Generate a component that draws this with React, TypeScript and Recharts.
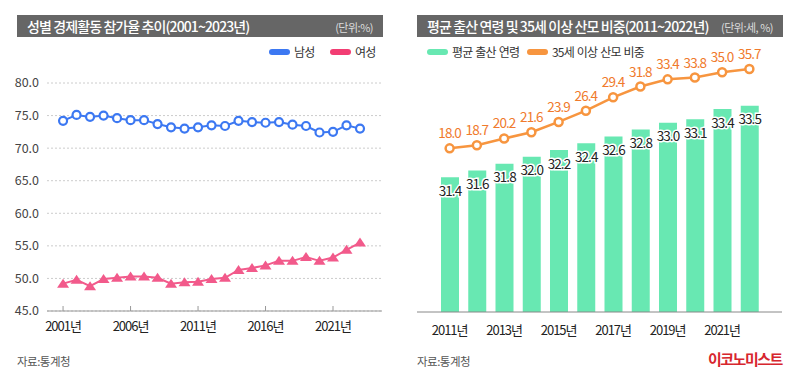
import { LineChart, Line, XAxis, YAxis, CartesianGrid, ComposedChart, Bar, LabelList } from "recharts";

// left panel: 성별 경제활동 참가율
const genderYears = [2001, 2002, 2003, 2004, 2005, 2006, 2007, 2008, 2009, 2010, 2011, 2012, 2013, 2014, 2015, 2016, 2017, 2018, 2019, 2020, 2021, 2022, 2023];
const maleRate = [74.2, 75.1, 74.8, 75.0, 74.6, 74.3, 74.3, 73.7, 73.2, 73.0, 73.2, 73.5, 73.4, 74.2, 74.0, 73.9, 74.0, 73.6, 73.4, 72.4, 72.5, 73.5, 73.0];
const femaleRate = [49.2, 49.8, 48.8, 49.9, 50.1, 50.3, 50.3, 50.1, 49.2, 49.4, 49.5, 49.9, 50.1, 51.3, 51.6, 52.0, 52.7, 52.7, 53.3, 52.7, 53.2, 54.4, 55.5];
const rateTicks = [45, 50, 55, 60, 65, 70, 75, 80];
const yearTicks = [2001, 2006, 2011, 2016, 2021];

// right panel: 평균 출산 연령 / 35세 이상 산모 비중
const birthYears = ["2011년", "2012년", "2013년", "2014년", "2015년", "2016년", "2017년", "2018년", "2019년", "2020년", "2021년", "2022년"];
const avgAge = [31.4, 31.6, 31.8, 32.0, 32.2, 32.4, 32.6, 32.8, 33.0, 33.1, 33.4, 33.5];
const over35Share = [18.0, 18.7, 20.2, 21.6, 23.9, 26.4, 29.4, 31.8, 33.4, 33.8, 35.0, 35.7];

const genderData = genderYears.map((year, i) => ({ year, male: maleRate[i], female: femaleRate[i] }));
const birthData = birthYears.map((year, i) => ({ year, age: avgAge[i], share: over35Share[i] }));

const FONT = '"Noto Sans CJK KR", "Noto Sans", sans-serif';
const BLUE = "#3c78f2";
const PINK = "#f25a8b";
const GREEN = "#68e8b2";
const ORANGE = "#f7953f";

const Triangle = (props: any) => {
  const { cx, cy, index } = props;
  if (cx == null || cy == null) return <g key={index} />;
  return <path key={index} d={`M${cx},${cy - 5} L${cx + 6},${cy + 4} L${cx - 6},${cy + 4} Z`} fill={PINK} />;
};

const YearTick = (props: any) => {
  const { x, y, payload } = props;
  return (
    <g>
      <line x1={x} x2={x} y1={y - 5} y2={y} stroke="#999" />
      <text x={x} y={y + 20} textAnchor="middle" fontSize={13} fill="#222" letterSpacing={-1}>
        {payload.value}년
      </text>
    </g>
  );
};

const TitleBar = ({ left, title, unit }: { left: number; title: string; unit: string }) => (
  <div style={{ position: "absolute", left, top: 15, width: 366, height: 22, background: "#666", color: "#fff" }}>
    <span style={{ position: "absolute", left: 10, top: 1, fontSize: 14, fontWeight: 500, letterSpacing: -0.9, whiteSpace: "nowrap" }}>{title}</span>
    <span style={{ position: "absolute", right: 10, top: 4, fontSize: 11, color: "#ddd", letterSpacing: -0.5, whiteSpace: "nowrap" }}>{unit}</span>
  </div>
);

const LegendItem = ({ left, color, label }: { left: number; color: string; label: string }) => (
  <div style={{ position: "absolute", left, top: 43, display: "flex", alignItems: "center", whiteSpace: "nowrap" }}>
    <div style={{ width: 21, height: 6, borderRadius: 3, background: color }} />
    <span style={{ marginLeft: 4, fontSize: 12, color: "#333", letterSpacing: -0.8, wordSpacing: 1 }}>{label}</span>
  </div>
);

export default function App() {
  return (
    <div style={{ position: "absolute", left: 0, top: 0, width: 800, height: 380, background: "#fff", fontFamily: FONT }}>
      <TitleBar left={17} title="성별 경제활동 참가율 추이(2001~2023년)" unit="(단위:%)" />
      <TitleBar left={417} title="평균 출산 연령 및 35세 이상 산모 비중(2011~2022년)" unit="(단위:세, %)" />

      <LegendItem left={269} color={BLUE} label="남성" />
      <LegendItem left={330} color="#f23d73" label="여성" />
      <LegendItem left={427} color={GREEN} label="평균 출산 연령" />
      <LegendItem left={527} color={ORANGE} label="35세 이상 산모 비중" />

      <div style={{ position: "absolute", left: 0, top: 0 }}>
        <LineChart width={400} height={380} data={genderData} margin={{ top: 83, right: 18, bottom: 39, left: 0 }}>
          <CartesianGrid vertical={false} stroke="#ccc" strokeDasharray="2 2" />
          <XAxis
            dataKey="year"
            type="number"
            domain={[1999.81, 2024.63]}
            ticks={yearTicks}
            allowDataOverflow
            height={30}
            tickSize={0}
            tickMargin={0}
            tickLine={false}
            axisLine={{ stroke: "#999" }}
            tick={<YearTick />}
          />
          <YAxis
            domain={[45, 80]}
            ticks={rateTicks}
            width={47}
            axisLine={false}
            tickLine={false}
            tickSize={0}
            tickMargin={8}
            tick={{ fontSize: 12.5, fill: "#444" }}
            tickFormatter={(v: number) => v.toFixed(1)}
          />
          <Line
            dataKey="male"
            stroke={BLUE}
            strokeWidth={2}
            dot={{ r: 4, fill: "#fff", stroke: BLUE, strokeWidth: 2.2 }}
            isAnimationActive={false}
          />
          <Line dataKey="female" stroke={PINK} strokeWidth={2} dot={<Triangle />} isAnimationActive={false} />
        </LineChart>
      </div>

      <div style={{ position: "absolute", left: 400, top: 0 }}>
        <ComposedChart width={400} height={380} data={birthData} margin={{ top: 60, right: 18, bottom: 38, left: 17 }}>
          <XAxis
            dataKey="year"
            height={30}
            interval={1}
            padding={{ left: 19, right: 19 }}
            tickLine={false}
            axisLine={{ stroke: "#888" }}
            tickMargin={8}
            tick={{ fontSize: 13, fill: "#222", letterSpacing: -1 }}
          />
          <YAxis yAxisId="age" hide domain={[27.45, 34.84]} allowDataOverflow />
          <YAxis yAxisId="pct" hide orientation="right" domain={[-18.53, 37.72]} allowDataOverflow />
          <Bar yAxisId="age" dataKey="age" fill={GREEN} barSize={18} isAnimationActive={false}>
            <LabelList
              dataKey="age"
              position="insideTop"
              offset={9}
              formatter={(v: number) => v.toFixed(1)}
              style={{ fontSize: 13.5, fill: "#222", stroke: "#fff", strokeWidth: 3, paintOrder: "stroke", letterSpacing: -0.9 }}
            />
          </Bar>
          <Line
            yAxisId="pct"
            dataKey="share"
            stroke={ORANGE}
            strokeWidth={2.5}
            dot={{ r: 4, fill: "#fff", stroke: ORANGE, strokeWidth: 2.5 }}
            isAnimationActive={false}
          >
            <LabelList
              dataKey="share"
              position="top"
              offset={10}
              formatter={(v: number) => v.toFixed(1)}
              style={{ fontSize: 13.5, fill: "#f07a2c", letterSpacing: -0.9 }}
            />
          </Line>
        </ComposedChart>
      </div>

      <div style={{ position: "absolute", left: 17, top: 353, fontSize: 11.5, color: "#555", letterSpacing: -0.5 }}>자료:통계청</div>
      <div style={{ position: "absolute", left: 417, top: 353, fontSize: 11.5, color: "#555", letterSpacing: -0.5 }}>자료:통계청</div>
      <div style={{ position: "absolute", left: 708, top: 348, fontSize: 15, fontWeight: 700, color: "#d7262e", letterSpacing: -1.5, whiteSpace: "nowrap" }}>
        이코노미스트
      </div>
    </div>
  );
}
